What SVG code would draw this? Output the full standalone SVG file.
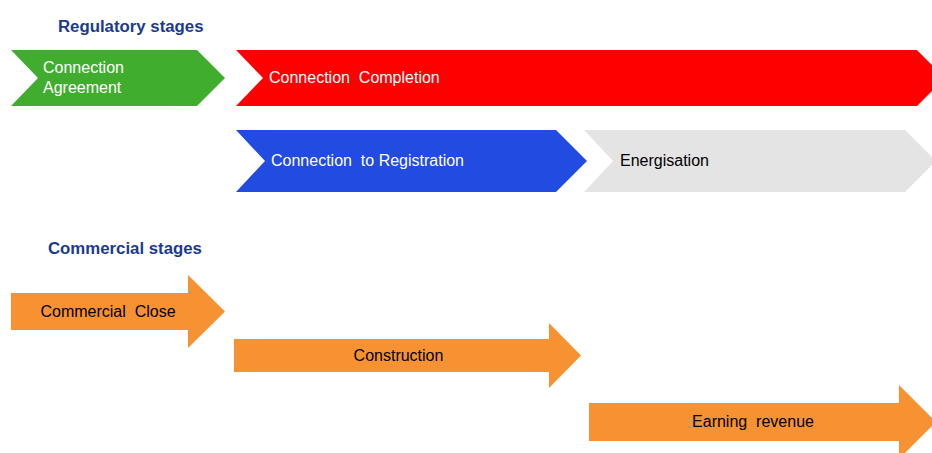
<svg xmlns="http://www.w3.org/2000/svg" width="932" height="453" viewBox="0 0 932 453">
<style>
text{font-family:"Liberation Sans",Arial,sans-serif;font-size:16px;white-space:pre}
.h{font-weight:bold;fill:#1B3B8F;font-size:16.8px}
.w{fill:#ffffff}
.k{fill:#000000}
.or{fill:#F79232}
</style>
<rect width="932" height="453" fill="#ffffff"/>
<text class="h" x="58" y="32">Regulatory stages</text>
<text class="h" x="48" y="254">Commercial stages</text>
<g id="connection-agreement">
<polygon points="11,50 197,50 225,78 197,106 11,106 38,78" fill="#41AD2F"/>
<text class="w" x="43" y="73">Connection</text>
<text class="w" x="43" y="93">Agreement</text>
</g>
<g id="connection-completion">
<polygon points="236,50 917,50 945,78 917,106 236,106 263,78" fill="#FF0000"/>
<text class="w" x="269" y="83">Connection  Completion</text>
</g>
<g id="connection-to-registration">
<polygon points="236,130 556,130 587,161 556,192 236,192 265,161" fill="#214BE1"/>
<text class="w" x="271" y="166">Connection  to Registration</text>
</g>
<g id="energisation">
<polygon points="584,130 905,130 936,161 905,192 584,192 613,161" fill="#E4E4E4"/>
<text class="k" x="620" y="166">Energisation</text>
</g>
<g id="commercial-close">
<polygon class="or" points="11,293 188,293 188,275 225,311.5 188,348 188,330 11,330"/>
<text class="k" x="108" y="317" text-anchor="middle">Commercial  Close</text>
</g>
<g id="construction">
<polygon class="or" points="234,339 549,339 549,323 581,355.5 549,388 549,372 234,372"/>
<text class="k" x="398.5" y="361" text-anchor="middle">Construction</text>
</g>
<g id="earning-revenue">
<polygon class="or" points="589,403 899,403 899,385 936,422 899,459 899,441 589,441"/>
<text class="k" x="753" y="427" text-anchor="middle">Earning  revenue</text>
</g>
<g id="connectors"></g>
</svg>
